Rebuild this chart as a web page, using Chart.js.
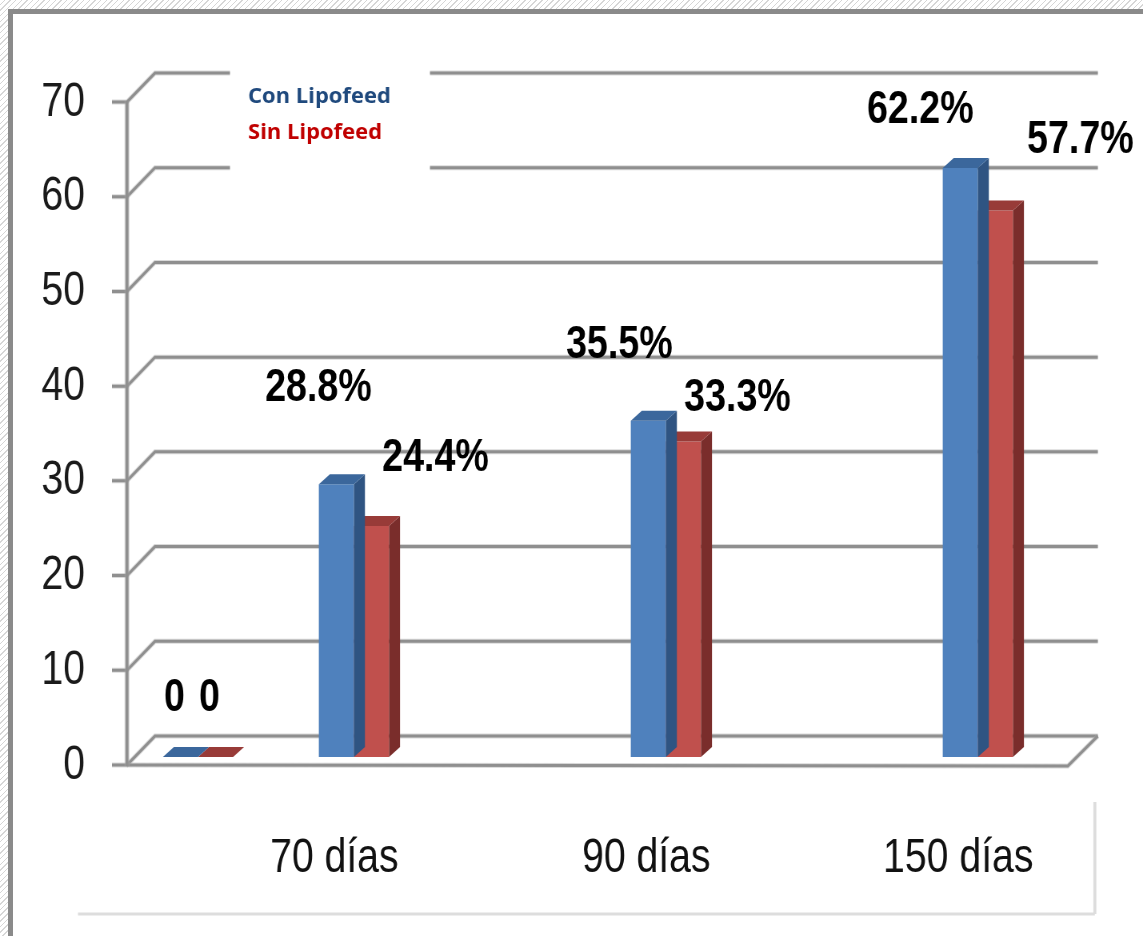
<!DOCTYPE html>
<html>
<head>
<meta charset="utf-8">
<script src="https://cdn.jsdelivr.net/npm/chart.js@4.4.0/dist/chart.umd.min.js"></script>
<style>
html,body{margin:0;padding:0;}
body{width:1143px;height:936px;position:relative;overflow:hidden;
  background:repeating-linear-gradient(135deg,#ffffff 0px,#ffffff 3px,#d6d6d6 3px,#d6d6d6 4px);}
#frame{position:absolute;left:8px;top:9px;width:1200px;height:1000px;background:#fff;
  border-left:5px solid #8a8a8a;border-top:5px solid #8a8a8a;}
#wrap{position:absolute;left:0;top:0;width:1143px;height:936px;overflow:hidden;}
</style>
</head>
<body>
<div id="frame"></div>
<div id="wrap"><canvas id="c" width="1429" height="936" style="width:1143px;height:936px;display:block;"></canvas></div>
<script>
// ---- data ----
const categories = ["", "70 días", "", "90 días", "", "150 días"];
const seriesNames = ["Con Lipofeed", "Sin Lipofeed"];
const conLipofeed = [0, 28.8, null, 35.5, null, 62.2];
const sinLipofeed = [0, 24.4, null, 33.3, null, 57.7];
const yMin = 0, yMax = 70, yStep = 10;

// ---- styles ----
// the canvas is drawn wider and displayed narrower (condensed text like the original)
const SX = 0.8;
const FRONT = ['#4F81BD', '#C0504D'];
const TOP = ['#3B679C', '#983B38'];
const SIDE = ['#2F5482', '#7A2D2B'];
const LEGEND_COLORS = ['#1F497D', '#C00000'];
const FONT = "'Liberation Sans', Arial, sans-serif";

const depth = {x: 28 / SX, y: 29};
const barShift = {x: 6 / SX, y: 8};
const barDepth = {x: 11 / SX, y: 10};
const axisInset = 13 / SX;

// label nudges (display px) relative to each bar's top centre
const labelNudge = [
  [[-6,-59],[-18,-96],null,[-29,-76],null,[-40,-58]],
  [[-6,-59],[64,-68],null,[54,-44],null,[85,-70]]
];
const fmt = v => v === 0 ? '0' : v.toFixed(1) + '%';

const threeD = {
  id: 'threeD',
  beforeDatasetsDraw(chart) {
    const {ctx, chartArea: a, scales: {y}} = chart;
    const fx = a.left + axisInset;
    const bx = fx + depth.x;
    const backRight = a.right + 48 / SX;
    const frontRight = a.right + 18 / SX;
    const line = (pts) => {
      for (const [w, c] of [[5, 'rgba(170,170,170,0.45)'], [3, '#8f8f8f']]) {
        ctx.beginPath();
        ctx.moveTo(pts[0][0], pts[0][1]);
        for (let k = 1; k < pts.length; k++) ctx.lineTo(pts[k][0], pts[k][1]);
        ctx.lineWidth = w; ctx.strokeStyle = c; ctx.lineJoin = 'miter'; ctx.stroke();
      }
    };
    ctx.save();
    y.ticks.forEach(t => {
      const py = y.getPixelForValue(t.value);
      line([[fx - 15 / SX, py], [fx, py], [bx, py - depth.y], [backRight, py - depth.y]]);
    });
    const p0 = y.getPixelForValue(yMin);
    line([[fx, p0], [frontRight, p0 + 1], [backRight, p0 - depth.y]]);
    ctx.save();
    ctx.scale(1 / SX, 1);
    line([[fx * SX, y.getPixelForValue(yMax) - 1], [fx * SX, p0 + 1]]);
    ctx.restore();

    // legend box (drawn at normal width)
    ctx.save();
    ctx.scale(1 / SX, 1);
    const lx = a.left * SX + 116, ly = a.top - 44;
    ctx.fillStyle = '#ffffff';
    ctx.fillRect(lx, ly, 200, 117);
    ctx.font = "bold 22px 'Open Sans', 'Noto Sans', sans-serif";
    ctx.textBaseline = 'alphabetic';
    ctx.textAlign = 'left';
    chart.data.datasets.forEach((ds, i) => {
      ctx.fillStyle = LEGEND_COLORS[i];
      ctx.fillText(ds.label, lx + 18, ly + 45 + i * 36);
    });
    ctx.restore();
    ctx.restore();

    ctx.save();
    ctx.translate(barShift.x, -barShift.y);
  },
  afterDatasetDraw(chart, args) {
    const ctx = chart.ctx;
    const i = args.index;
    const data = chart.data.datasets[i].data;
    args.meta.data.forEach((bar, j) => {
      const v = data[j];
      if (v == null) return;
      const {x, y, width, base} = bar.getProps(['x', 'y', 'width', 'base'], true);
      const l = x - width / 2, r = x + width / 2;
      if (base - y > 0.5) {
        ctx.fillStyle = SIDE[i];
        ctx.beginPath();
        ctx.moveTo(r, y); ctx.lineTo(r + barDepth.x, y - barDepth.y);
        ctx.lineTo(r + barDepth.x, base - barDepth.y); ctx.lineTo(r, base);
        ctx.closePath(); ctx.fill();
      }
      ctx.fillStyle = TOP[i];
      ctx.beginPath();
      ctx.moveTo(l, y); ctx.lineTo(l + barDepth.x, y - barDepth.y);
      ctx.lineTo(r + barDepth.x, y - barDepth.y); ctx.lineTo(r, y);
      ctx.closePath(); ctx.fill();
    });
  },
  afterDatasetsDraw(chart) {
    const ctx = chart.ctx;
    ctx.restore();
    ctx.save();
    ctx.font = "bold 47px " + FONT;
    ctx.fillStyle = '#000';
    ctx.textAlign = 'center';
    ctx.textBaseline = 'middle';
    chart.data.datasets.forEach((ds, i) => {
      const meta = chart.getDatasetMeta(i);
      meta.data.forEach((bar, j) => {
        const v = ds.data[j];
        if (v == null) return;
        const n = labelNudge[i][j] || [0, -40];
        ctx.fillText(fmt(v), bar.x + barShift.x + n[0] / SX, bar.y - barShift.y + n[1]);
      });
    });
    ctx.restore();
  },
  afterDraw(chart) {
    const {ctx, chartArea: a} = chart;
    ctx.save();
    ctx.strokeStyle = '#dddddd';
    ctx.lineWidth = 3;
    ctx.beginPath();
    ctx.moveTo(a.left - 36 / SX, a.bottom + 149);
    ctx.lineTo(a.right + 45 / SX, a.bottom + 149);
    ctx.stroke();
    ctx.lineWidth = 3 / SX;
    ctx.beginPath();
    ctx.moveTo(a.right + 45 / SX, a.bottom + 149);
    ctx.lineTo(a.right + 45 / SX, a.bottom + 37);
    ctx.stroke();
    ctx.restore();
  }
};

const canvas = document.getElementById('c');
new Chart(canvas, {
  type: 'bar',
  data: {
    labels: categories,
    datasets: [
      {label: seriesNames[0], data: conLipofeed, backgroundColor: FRONT[0], borderWidth: 0,
       categoryPercentage: 0.45, barPercentage: 1.0, clip: false},
      {label: seriesNames[1], data: sinLipofeed, backgroundColor: FRONT[1], borderWidth: 0,
       categoryPercentage: 0.45, barPercentage: 1.0, clip: false}
    ]
  },
  options: {
    responsive: false,
    devicePixelRatio: 1,
    animation: false,
    layout: {padding: {left: 0, top: 102, right: 1429 - 1050 / SX, bottom: 0}},
    plugins: {legend: {display: false}, tooltip: {enabled: false}},
    scales: {
      x: {
        grid: {display: false, drawTicks: false},
        border: {display: false},
        ticks: {autoSkip: false, maxRotation: 0, minRotation: 0, padding: 64, color: '#111',
                labelOffset: -17, font: {family: FONT, size: 49}},
        afterFit: s => { s.height = 171; }
      },
      y: {
        min: yMin, max: yMax,
        grid: {display: false, drawTicks: false},
        border: {display: false},
        ticks: {stepSize: yStep, padding: 29 / SX, color: '#1a1a1a', font: {family: FONT, size: 49}},
        afterFit: s => { s.width = 114 / SX; }
      }
    }
  },
  plugins: [threeD]
});
canvas.style.width = '1143px';
canvas.style.height = '936px';
</script>
</body>
</html>
